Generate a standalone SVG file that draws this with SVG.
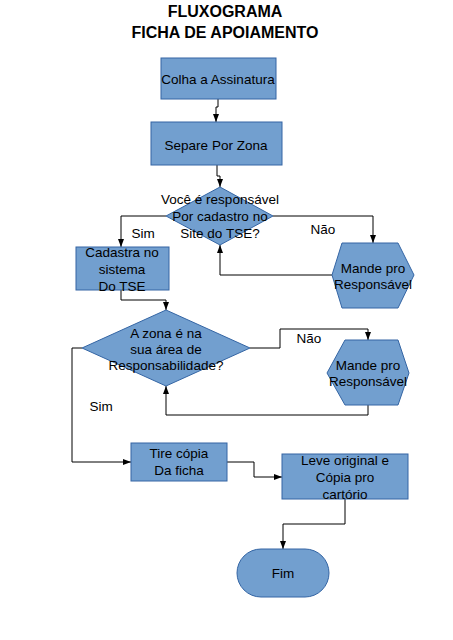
<svg xmlns="http://www.w3.org/2000/svg" width="453" height="640" viewBox="0 0 453 640">
<defs>
<style>
.n{fill:#729fcf;stroke:#3465a4;stroke-width:1}
.t{font-family:"Liberation Sans",Arial,sans-serif;font-size:13.5px;fill:#000;text-anchor:middle}
.h{font-family:"Liberation Sans",Arial,sans-serif;font-size:16px;font-weight:bold;fill:#000;text-anchor:middle}
.c{fill:none;stroke:#000;stroke-width:1}
</style>
<marker id="a" markerWidth="8" markerHeight="8" viewBox="0 0 8 8" refX="8" refY="4" orient="auto" markerUnits="userSpaceOnUse">
<path d="M0,1 L8,4 L0,7 Z" fill="#000"/>
</marker>
</defs>
<rect width="453" height="640" fill="#fff"/>
<g id="title">
<text class="h" x="225" y="17">FLUXOGRAMA</text>
<text class="h" x="225" y="38">FICHA DE APOIAMENTO</text>
</g>
<g id="connectors">
<path class="c" d="M218,99 V107 H216 V122" marker-end="url(#a)"/>
<path class="c" d="M217,165 V176 H220 V187" marker-end="url(#a)"/>
<path class="c" d="M166,216 H121 V247" marker-end="url(#a)"/>
<path class="c" d="M273,216 H373 V243" marker-end="url(#a)"/>
<path class="c" d="M332,275 H220 V245" marker-end="url(#a)"/>
<path class="c" d="M121,290 V300 H166 V310" marker-end="url(#a)"/>
<path class="c" d="M250,348 H280 V329 H368 V340" marker-end="url(#a)"/>
<path class="c" d="M368,405 V415 H166 V386" marker-end="url(#a)"/>
<path class="c" d="M82,348 H72 V462 H131" marker-end="url(#a)"/>
<path class="c" d="M227,462 H254 V477 H282" marker-end="url(#a)"/>
<path class="c" d="M345,499 V524 H283 V549" marker-end="url(#a)"/>
<text class="t" x="143" y="238">Sim</text>
<text class="t" x="323" y="234">Não</text>
<text class="t" x="309" y="343">Não</text>
<text class="t" x="101" y="411">Sim</text>
</g>
<g id="n1">
<rect class="n" x="161" y="58" width="115" height="41"/>
<text class="t" x="218" y="84">Colha a Assinatura</text>
</g>
<g id="n2">
<rect class="n" x="151" y="122" width="131" height="43"/>
<text class="t" x="216" y="150">Separe Por Zona</text>
</g>
<g id="n3">
<polygon class="n" points="220,187 273,216 220,245 166,216"/>
<text class="t" x="220" y="204">Você é responsável</text>
<text class="t" x="220" y="221">Por cadastro no</text>
<text class="t" x="220" y="238">Site do TSE?</text>
</g>
<g id="n4">
<rect class="n" x="76" y="247" width="93" height="43"/>
<text class="t" x="122" y="257">Cadastra no</text>
<text class="t" x="122" y="274">sistema</text>
<text class="t" x="122" y="291">Do TSE</text>
</g>
<g id="n5">
<polygon class="n" points="342,243 398,243 414,275 398,308 342,308 332,275"/>
<text class="t" x="373" y="273">Mande pro</text>
<text class="t" x="373" y="289">Responsável</text>
</g>
<g id="n6">
<polygon class="n" points="166,310 250,348 166,386 82,348"/>
<text class="t" x="166" y="338">A zona é na</text>
<text class="t" x="166" y="354">sua área de</text>
<text class="t" x="166" y="370">Responsabilidade?</text>
</g>
<g id="n7">
<polygon class="n" points="345,340 398,340 409,373 398,405 345,405 327,373"/>
<text class="t" x="368" y="370">Mande pro</text>
<text class="t" x="368" y="386">Responsável</text>
</g>
<g id="n8">
<rect class="n" x="131" y="443" width="96" height="38"/>
<text class="t" x="179" y="458">Tire cópia</text>
<text class="t" x="179" y="475">Da ficha</text>
</g>
<g id="n9">
<rect class="n" x="282" y="454" width="126" height="45"/>
<text class="t" x="345" y="465">Leve original e</text>
<text class="t" x="345" y="482">Cópia pro</text>
<text class="t" x="345" y="499">cartório</text>
</g>
<g id="n10">
<rect class="n" x="237" y="549" width="92" height="48" rx="24" ry="24"/>
<text class="t" x="283" y="578">Fim</text>
</g>
</svg>
